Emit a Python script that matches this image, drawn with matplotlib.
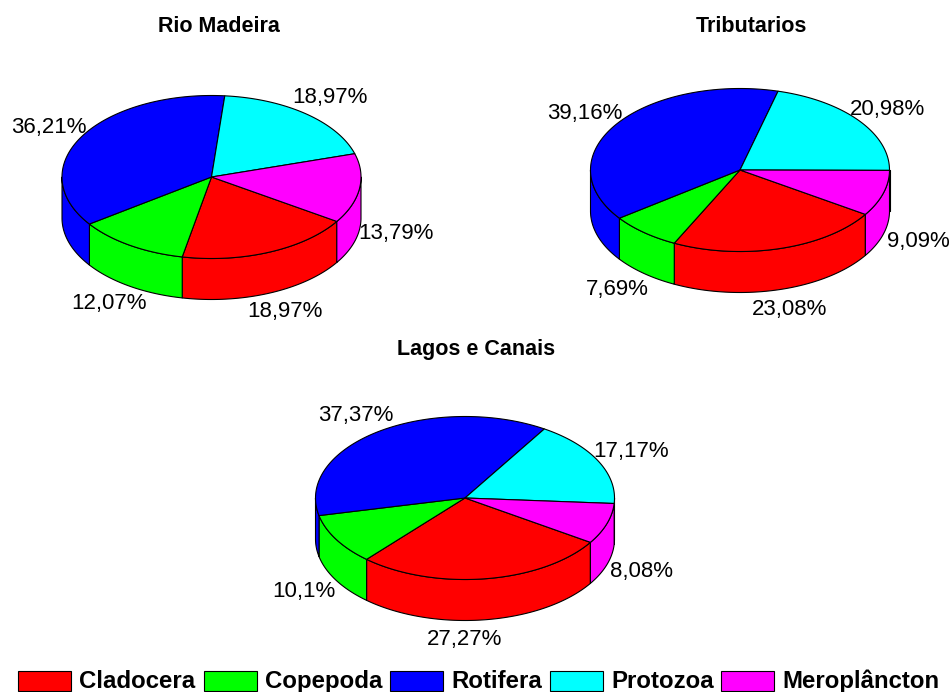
import numpy as np
import matplotlib
matplotlib.use('Agg')
import matplotlib.pyplot as plt
from matplotlib.patches import Polygon, Rectangle

plt.rcParams['font.family'] = ['Liberation Sans', 'DejaVu Sans']

# percentages per site
groups = ['Cladocera', 'Copepoda', 'Rotifera', 'Protozoa', 'Meroplâncton']
colors = ['#ff0000', '#00ff00', '#0000ff', '#00ffff', '#ff00ff']
rio_madeira = [18.97, 12.07, 36.21, 18.97, 13.79]
tributarios = [23.08, 7.69, 39.16, 20.98, 9.09]
lagos_canais = [27.27, 10.1, 37.37, 17.17, 8.08]

# pie geometry in pixels
RX, RY, DEPTH = 149.5, 81.5, 41
START = 327.0

# label anchors for each slice (left, vertical centre)
rio_labels = [(247, 312), (71, 304), (11, 127), (292, 98), (358, 233)]
trib_labels = [(752, 310), (586, 290), (547, 114), (850, 109), (887, 241)]
lagos_labels = [(427, 639), (272, 591), (318, 416), (593, 452), (610, 571)]

W, H = 951, 692
fig = plt.figure(figsize=(W/100, H/100), dpi=100)
ax = fig.add_axes([0, 0, 1, 1])
ax.set_xlim(0, W)
ax.set_ylim(H, 0)
ax.axis('off')


def arc(cx, cy, a0, a1):
    t = np.radians(np.linspace(a0, a1, 120))
    return np.column_stack([cx + RX*np.cos(t), cy - RY*np.sin(t)])


def draw_pie(values, cx, cy, labels, title, title_x, title_y):
    bounds = START - np.cumsum([0] + list(values))*3.6
    # side walls first, only the part facing the viewer
    for k in range(len(values)):
        a1, a0 = bounds[k] % 360, (bounds[k+1]) % 360
        if a1 <= a0:
            a1 += 360
        for lo, hi in [(180, 360), (540, 720)]:
            s0, s1 = max(a0, lo), min(a1, hi)
            if s0 >= s1:
                continue
            top = arc(cx, cy, s0, s1)
            bot = top[::-1] + [0, DEPTH]
            ax.add_patch(Polygon(np.vstack([top, bot]), closed=True, fc=colors[k],
                                 ec='black', lw=0.8, joinstyle='round'))
    # top face
    for k in range(len(values)):
        pts = arc(cx, cy, bounds[k+1], bounds[k])
        ax.add_patch(Polygon(np.vstack([[cx, cy], pts]), closed=True, fc=colors[k],
                             ec='black', lw=0.8, joinstyle='round'))
    for v, (x, y) in zip(values, labels):
        txt = ('%.2f' % v).rstrip('0').replace('.', ',') + '%'
        ax.text(x, y, txt, fontsize=16, ha='left', va='center', color='black')
    ax.text(title_x, title_y, title, fontsize=15.5, fontweight='bold',
            ha='center', va='center')


draw_pie(rio_madeira, 211.5, 177, rio_labels, 'Rio Madeira', 219, 27)
draw_pie(tributarios, 740, 170, trib_labels, 'Tributarios', 751, 27)
draw_pie(lagos_canais, 465, 498, lagos_labels, 'Lagos e Canais', 476, 350)

# legend row
swatch_x = [18, 204, 390, 550, 721]
for g, c, x in zip(groups, colors, swatch_x):
    ax.add_patch(Rectangle((x, 671), 53, 20, fc=c, ec='black', lw=0.8))
    ax.text(x + 61, 688, g, fontsize=17.3, fontweight='bold', ha='left', va='baseline')

fig.savefig('out.png', dpi=100)
